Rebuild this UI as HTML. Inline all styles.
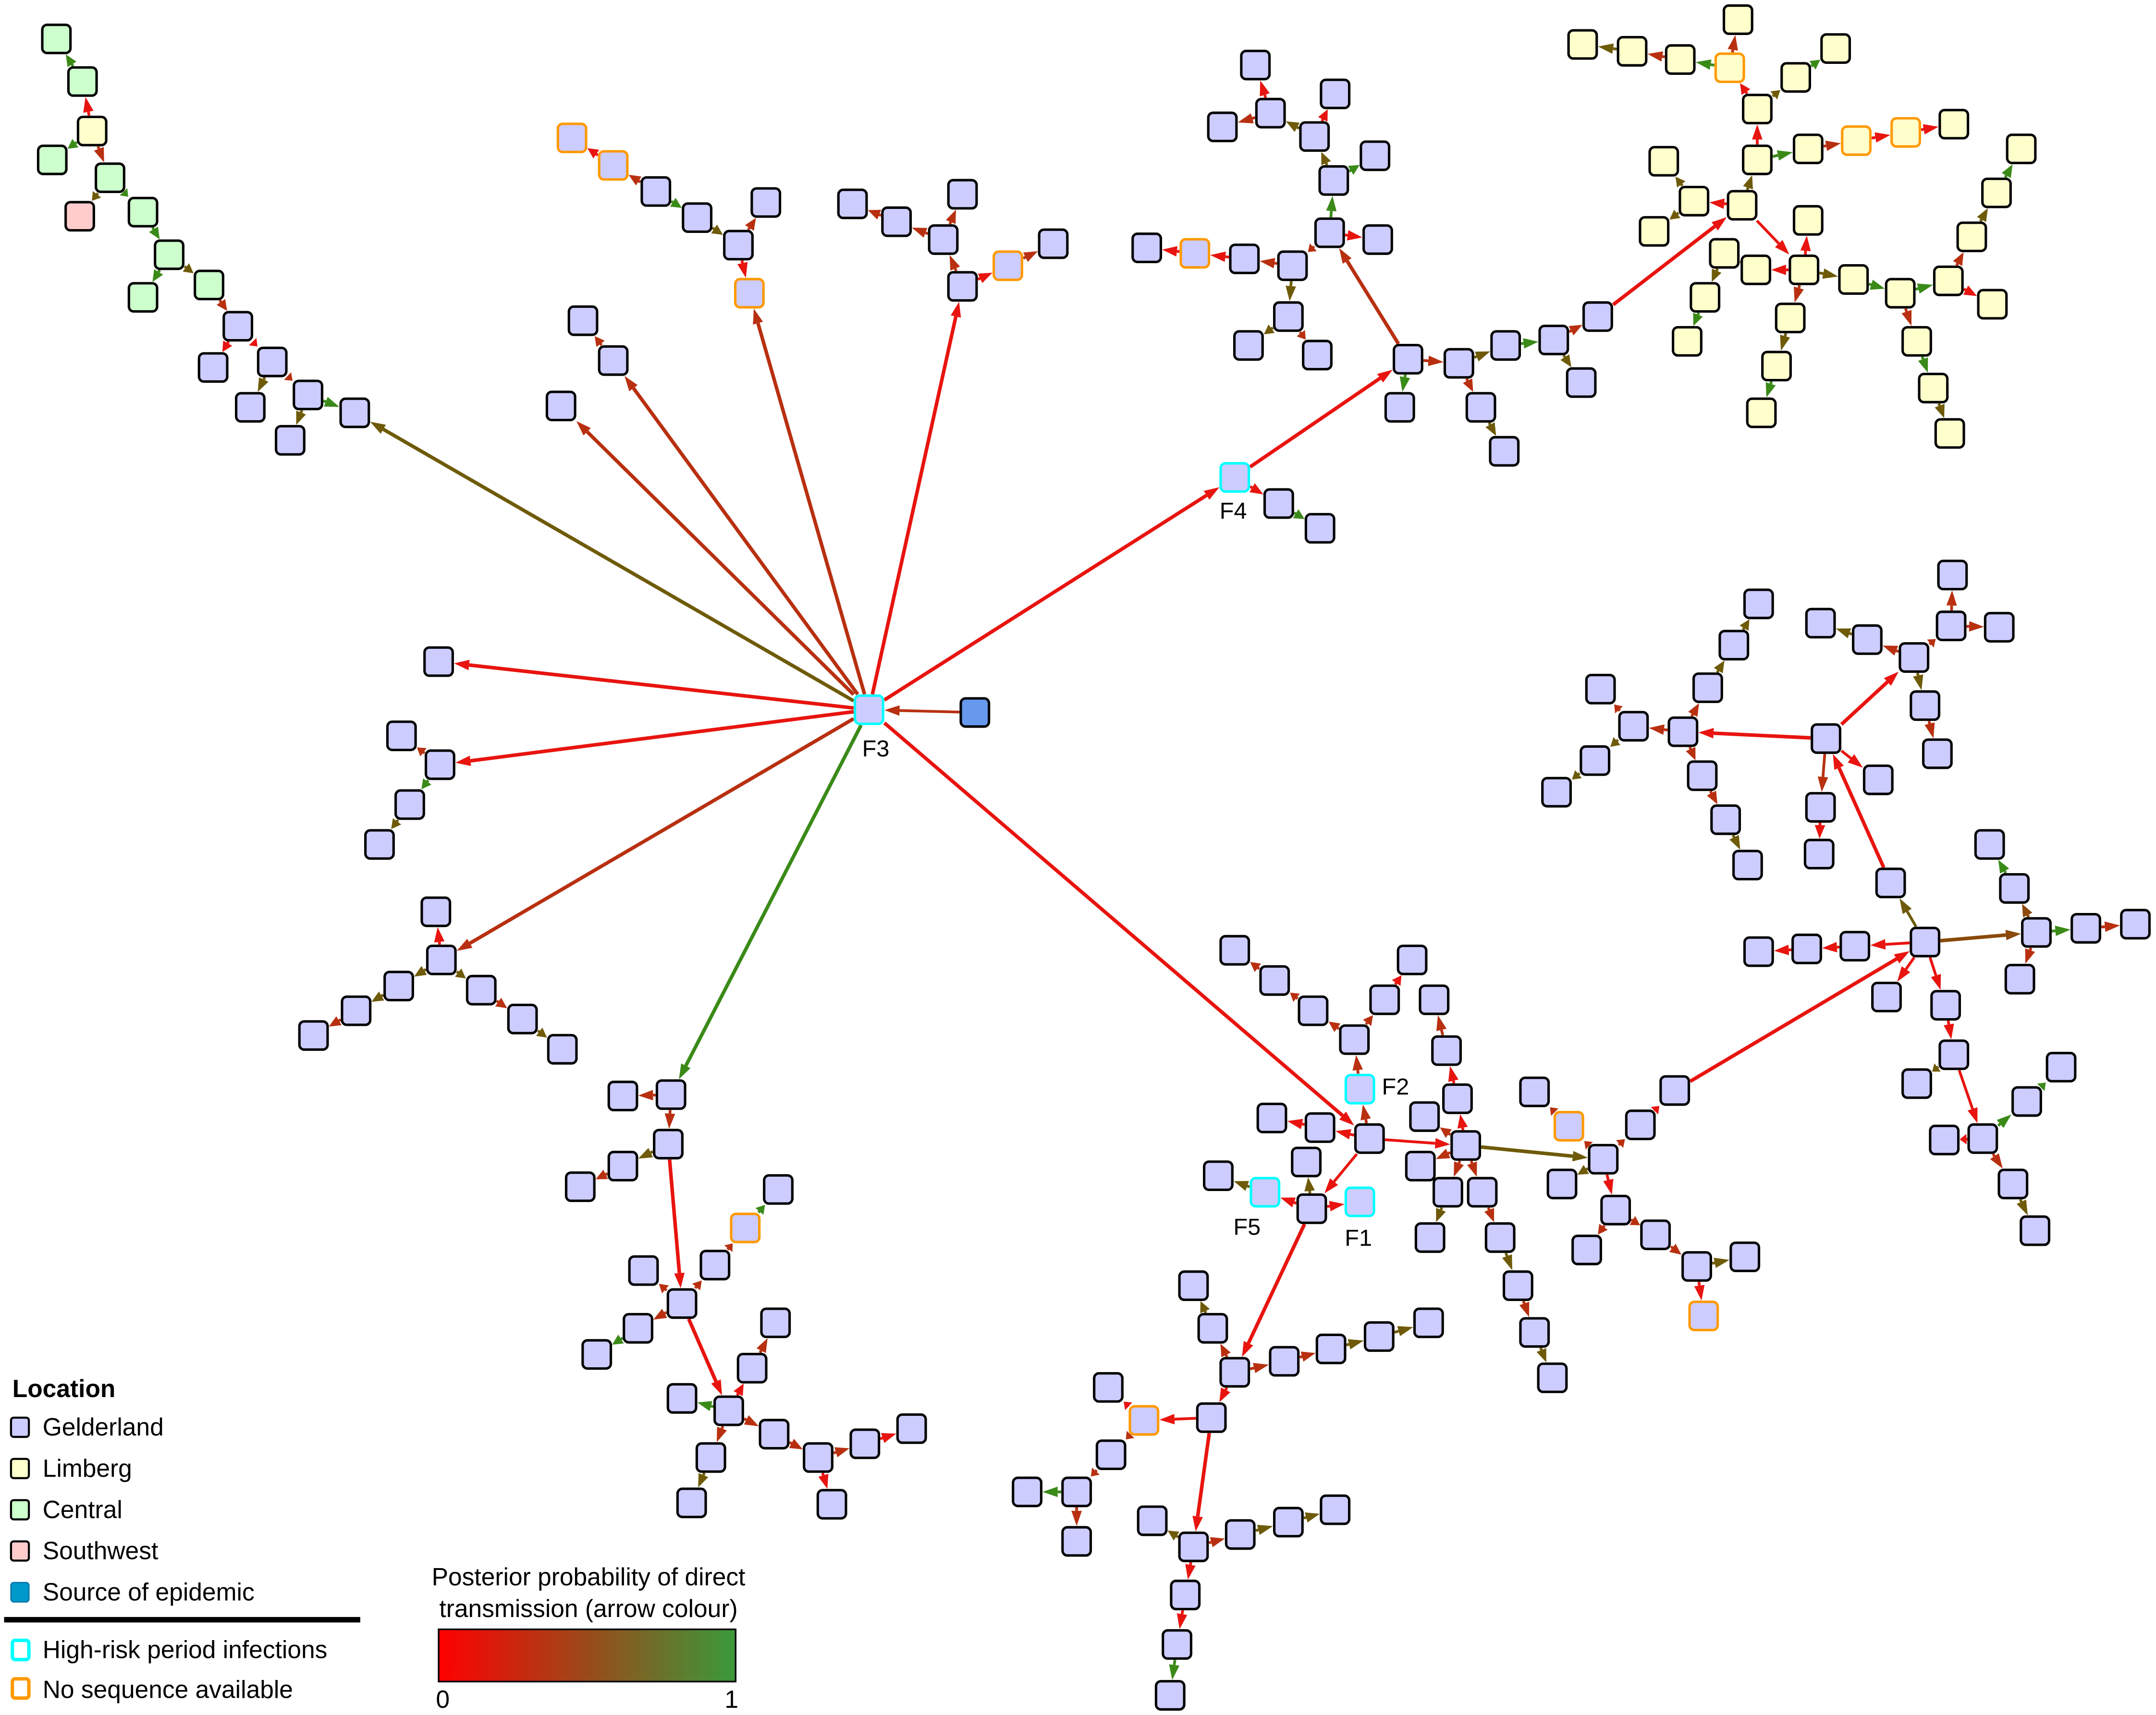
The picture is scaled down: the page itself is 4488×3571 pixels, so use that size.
<!DOCTYPE html>
<html><head><meta charset="utf-8">
<style>
html,body{margin:0;padding:0;background:#fff;}
svg{display:block;}
text{font-family:"Liberation Sans",Arial,sans-serif;}
</style></head>
<body>
<svg id="s" xmlns="http://www.w3.org/2000/svg" width="4488" height="3571" viewBox="0 0 1568 1247">
<defs>
<linearGradient id="gr" x1="0" x2="1" y1="0" y2="0">
<stop offset="0" stop-color="#ff0000"/><stop offset="0.5" stop-color="#9a4a1a"/><stop offset="1" stop-color="#3a9a3a"/>
</linearGradient>
</defs>
<g id="E"></g>
<g id="N"></g>
<g font-size="17" fill="#000">
<text x="887" y="377">F4</text>
<text x="627" y="550">F3</text>
<text x="1005" y="796">F2</text>
<text x="978" y="906">F1</text>
<text x="897" y="898">F5</text>
</g>
<g font-size="18">
<text x="9" y="1016" font-weight="bold">Location</text>
<rect x="8" y="1031" width="13" height="14" rx="2" fill="#ccccff" stroke="#000" stroke-width="1.5"/>
<text x="31" y="1044">Gelderland</text>
<rect x="8" y="1061" width="13" height="14" rx="2" fill="#ffffcc" stroke="#000" stroke-width="1.5"/>
<text x="31" y="1074">Limberg</text>
<rect x="8" y="1091" width="13" height="14" rx="2" fill="#ccffcc" stroke="#000" stroke-width="1.5"/>
<text x="31" y="1104">Central</text>
<rect x="8" y="1121" width="13" height="14" rx="2" fill="#ffcccc" stroke="#000" stroke-width="1.5"/>
<text x="31" y="1134">Southwest</text>
<rect x="8" y="1151" width="13" height="14" rx="2" fill="#0099cc" stroke="#0077aa" stroke-width="1"/>
<text x="31" y="1164">Source of epidemic</text>
<rect x="3" y="1176" width="259" height="4" fill="#000"/>
<rect x="9" y="1193" width="12" height="14" rx="2" fill="#fff" stroke="#00ffff" stroke-width="2.5"/>
<text x="31" y="1206">High-risk period infections</text>
<rect x="9" y="1221" width="12" height="14" rx="2" fill="#fff" stroke="#ff9900" stroke-width="2.5"/>
<text x="31" y="1235">No sequence available</text>
<text x="428" y="1153" text-anchor="middle">Posterior probability of direct</text>
<text x="428" y="1176" text-anchor="middle">transmission (arrow colour)</text>
<rect x="319" y="1185" width="216" height="38" fill="url(#gr)" stroke="#000" stroke-width="1.2"/>
<text x="322" y="1242" text-anchor="middle">0</text>
<text x="532" y="1242" text-anchor="middle">1</text>
</g>
</svg>
<script>
var NS="http://www.w3.org/2000/svg";
var fills={g:"#ccccff",l:"#ffffcc",c:"#ccffcc",s:"#ffcccc",src:"#6699ee",cy:"#ccccff",og:"#ccccff",ol:"#ffffcc"};
var strokes={cy:"#00ffff",og:"#ff9900",ol:"#ff9900"};
var nodes=[
[41,28,'c'],[60,59,'c'],[67,95,'l'],[38,116,'c'],[80,129,'c'],[58,157,'s'],[104,154,'c'],[123,185,'c'],[104,216,'c'],[152,207,'c'],[173,237,'g'],[155,267,'g'],[198,263,'g'],[182,296,'g'],[224,287,'g'],[211,320,'g'],[258,300,'g'],
[632,516,'cy'],[709,518,'src'],
[424,233,'g'],[446,262,'g'],[408,295,'g'],
[416,100,'og'],[446,120,'og'],[477,139,'g'],[507,158,'g'],[537,178,'g'],[557,147,'g'],[545,213,'og'],
[620,148,'g'],[652,161,'g'],[686,174,'g'],[700,141,'g'],[700,208,'g'],[733,193,'og'],[766,177,'g'],
[898,347,'cy'],[930,366,'g'],[960,384,'g'],
[319,481,'g'],[292,535,'g'],[320,556,'g'],[298,585,'g'],[276,614,'g'],
[317,663,'g'],[321,698,'g'],[290,717,'g'],[259,735,'g'],[228,753,'g'],[350,720,'g'],[380,741,'g'],[409,763,'g'],
[453,797,'g'],[488,796,'g'],[486,832,'g'],[453,848,'g'],[422,863,'g'],[566,865,'g'],[542,893,'og'],[520,920,'g'],[468,924,'g'],[496,948,'g'],[464,966,'g'],[434,985,'g'],[564,962,'g'],[547,995,'g'],[496,1017,'g'],[530,1026,'g'],[517,1060,'g'],[503,1093,'g'],[563,1043,'g'],[595,1060,'g'],[629,1050,'g'],[663,1039,'g'],[605,1094,'g'],
[1024,261,'g'],[1018,296,'g'],[1061,264,'g'],[1077,296,'g'],[1094,328,'g'],[1095,251,'g'],[1130,247,'g'],[1150,278,'g'],[1162,230,'g'],
[967,169,'g'],[1002,174,'g'],[970,131,'g'],[1000,113,'g'],[956,99,'g'],[924,82,'g'],[913,47,'g'],[889,92,'g'],[971,68,'g'],[940,193,'g'],[905,188,'g'],[869,184,'og'],[834,180,'g'],[937,230,'g'],[908,251,'g'],[958,258,'g'],
[1267,149,'l'],[1232,146,'l'],[1203,168,'l'],[1210,117,'l'],[1278,116,'l'],[1278,79,'l'],[1306,56,'l'],[1335,35,'l'],[1258,49,'ol'],[1264,14,'l'],[1222,43,'l'],[1187,37,'l'],[1151,32,'l'],[1315,108,'l'],[1350,102,'ol'],[1386,96,'ol'],[1421,90,'l'],
[1312,196,'l'],[1277,196,'l'],[1254,184,'l'],[1240,216,'l'],[1227,248,'l'],[1302,231,'l'],[1292,266,'l'],[1281,300,'l'],[1315,160,'l'],[1348,203,'l'],[1382,213,'l'],[1417,204,'l'],[1434,172,'l'],[1452,140,'l'],[1470,108,'l'],[1449,221,'l'],[1394,248,'l'],[1406,282,'l'],[1418,315,'l'],
[1328,537,'g'],[1224,532,'g'],[1188,528,'g'],[1164,501,'g'],[1160,553,'g'],[1132,576,'g'],[1242,500,'g'],[1261,469,'g'],[1279,439,'g'],[1238,564,'g'],[1255,596,'g'],[1271,629,'g'],[1324,587,'g'],[1323,621,'g'],[1366,567,'g'],[1392,478,'g'],[1358,465,'g'],[1324,453,'g'],[1419,455,'g'],[1454,456,'g'],[1420,418,'g'],[1400,513,'g'],[1409,548,'g'],
[1375,642,'g'],[1400,685,'g'],[1349,688,'g'],[1314,690,'g'],[1279,692,'g'],[1481,678,'g'],[1447,614,'g'],[1465,646,'g'],[1517,675,'g'],[1553,672,'g'],[1469,712,'g'],[1372,725,'g'],[1415,731,'g'],[1421,767,'g'],[1442,828,'g'],[1394,788,'g'],[1474,801,'g'],[1499,776,'g'],[1414,829,'g'],[1464,861,'g'],[1480,895,'g'],
[1218,793,'g'],[1193,818,'g'],[1166,843,'g'],[1141,819,'og'],[1116,794,'g'],[1136,861,'g'],[1175,880,'g'],[1154,909,'g'],[1204,898,'g'],[1234,921,'g'],[1269,914,'g'],[1239,957,'og'],
[996,828,'g'],[989,792,'cy'],[985,756,'g'],[955,735,'g'],[927,713,'g'],[898,691,'g'],[1007,727,'g'],[1027,698,'g'],[960,820,'g'],[925,813,'g'],[989,874,'cy'],[920,867,'cy'],[954,879,'g'],[886,855,'g'],[950,845,'g'],
[1066,833,'g'],[1060,799,'g'],[1052,764,'g'],[1043,727,'g'],[1036,812,'g'],[1033,848,'g'],[1053,867,'g'],[1040,900,'g'],[1078,867,'g'],[1091,900,'g'],[1104,935,'g'],[1116,969,'g'],[1129,1002,'g'],
[898,998,'g'],[868,935,'g'],[882,966,'g'],[934,990,'g'],[968,981,'g'],[1003,972,'g'],[1039,962,'g'],[881,1031,'g'],[832,1033,'og'],[806,1009,'g'],[808,1058,'g'],[783,1085,'g'],[747,1085,'g'],[783,1121,'g'],[868,1125,'g'],[838,1106,'g'],[902,1116,'g'],[937,1107,'g'],[971,1098,'g'],[862,1160,'g'],[856,1196,'g'],[851,1233,'g']
];
var C={r:"#e8140f",b:"#b83010",o:"#6e5a08",g:"#3a8a18",br:"#8a4a0a"};
var edges=[
[60,59,41,28,'g'],[67,95,60,59,'r'],[67,95,38,116,'g'],[67,95,80,129,'b'],[80,129,58,157,'o'],[80,129,104,154,'g'],[104,154,123,185,'g'],[123,185,104,216,'g'],[123,185,152,207,'o'],[152,207,173,237,'b'],[173,237,155,267,'r'],[173,237,198,263,'r'],[198,263,182,296,'o'],[198,263,224,287,'b'],[224,287,211,320,'o'],[224,287,258,300,'g'],
[709,518,632,516,'b'],
[632,516,258,300,'o'],[632,516,446,262,'b'],[632,516,408,295,'b'],[446,262,424,233,'b'],[632,516,545,213,'b'],[632,516,700,208,'r'],[632,516,898,347,'r'],[632,516,319,481,'r'],[632,516,320,556,'r'],[632,516,321,698,'b'],[632,516,488,796,'g'],[632,516,996,828,'r'],
[446,120,416,100,'r'],[477,139,446,120,'b'],[477,139,507,158,'g'],[507,158,537,178,'o'],[537,178,557,147,'b'],[537,178,545,213,'r'],
[652,161,620,148,'b'],[686,174,652,161,'b'],[686,174,700,141,'b'],[700,208,686,174,'b'],[700,208,733,193,'r'],[733,193,766,177,'b'],
[898,347,1024,261,'r'],[898,347,930,366,'r'],[930,366,960,384,'g'],
[320,556,292,535,'b'],[320,556,298,585,'g'],[298,585,276,614,'o'],
[321,698,317,663,'r'],[321,698,290,717,'o'],[290,717,259,735,'o'],[259,735,228,753,'b'],[321,698,350,720,'o'],[350,720,380,741,'b'],[380,741,409,763,'o'],
[488,796,453,797,'b'],[488,796,486,832,'b'],[486,832,453,848,'o'],[453,848,422,863,'b'],[486,832,496,948,'r'],[496,948,520,920,'b'],[520,920,542,893,'b'],[542,893,566,865,'g'],[496,948,468,924,'b'],[496,948,464,966,'b'],[464,966,434,985,'g'],[496,948,530,1026,'r'],[530,1026,547,995,'r'],[547,995,564,962,'b'],[530,1026,496,1017,'g'],[530,1026,517,1060,'b'],[517,1060,503,1093,'o'],[530,1026,563,1043,'b'],[563,1043,595,1060,'b'],[595,1060,629,1050,'b'],[629,1050,663,1039,'r'],[595,1060,605,1094,'r'],
[1024,261,1018,296,'g'],[1024,261,1061,264,'b'],[1061,264,1077,296,'b'],[1077,296,1094,328,'o'],[1061,264,1095,251,'o'],[1095,251,1130,247,'g'],[1130,247,1150,278,'o'],[1130,247,1162,230,'b'],[1162,230,1267,149,'r'],
[1024,261,967,169,'b'],[967,169,1002,174,'r'],[967,169,970,131,'g'],[970,131,1000,113,'g'],[970,131,956,99,'o'],[956,99,924,82,'o'],[924,82,913,47,'r'],[924,82,889,92,'b'],[956,99,971,68,'r'],[967,169,940,193,'b'],[940,193,905,188,'b'],[905,188,869,184,'r'],[869,184,834,180,'r'],[940,193,937,230,'o'],[937,230,908,251,'o'],[937,230,958,258,'b'],
[1267,149,1232,146,'r'],[1232,146,1203,168,'o'],[1232,146,1210,117,'o'],[1267,149,1278,116,'o'],[1278,116,1278,79,'r'],[1278,79,1306,56,'o'],[1306,56,1335,35,'g'],[1278,79,1258,49,'r'],[1258,49,1264,14,'b'],[1258,49,1222,43,'g'],[1222,43,1187,37,'b'],[1187,37,1151,32,'o'],[1278,116,1315,108,'g'],[1315,108,1350,102,'b'],[1350,102,1386,96,'r'],[1386,96,1421,90,'r'],
[1267,149,1312,196,'r'],[1312,196,1277,196,'r'],[1277,196,1254,184,'o'],[1254,184,1240,216,'o'],[1240,216,1227,248,'g'],[1312,196,1302,231,'b'],[1302,231,1292,266,'o'],[1292,266,1281,300,'g'],[1312,196,1315,160,'r'],[1312,196,1348,203,'o'],[1348,203,1382,213,'g'],[1382,213,1417,204,'g'],[1417,204,1434,172,'b'],[1434,172,1452,140,'o'],[1452,140,1470,108,'g'],[1417,204,1449,221,'r'],[1382,213,1394,248,'b'],[1394,248,1406,282,'g'],[1406,282,1418,315,'o'],
[1328,537,1224,532,'r'],[1224,532,1188,528,'b'],[1188,528,1164,501,'b'],[1188,528,1160,553,'o'],[1160,553,1132,576,'o'],[1224,532,1242,500,'b'],[1242,500,1261,469,'o'],[1261,469,1279,439,'o'],[1224,532,1238,564,'b'],[1238,564,1255,596,'b'],[1255,596,1271,629,'o'],[1328,537,1324,587,'b'],[1324,587,1323,621,'r'],[1328,537,1366,567,'r'],[1328,537,1392,478,'r'],[1392,478,1358,465,'b'],[1358,465,1324,453,'o'],[1392,478,1419,455,'b'],[1419,455,1454,456,'b'],[1419,455,1420,418,'b'],[1392,478,1400,513,'o'],[1400,513,1409,548,'b'],
[1375,642,1328,537,'r'],[1400,685,1375,642,'o'],[1400,685,1349,688,'r'],[1349,688,1314,690,'r'],[1314,690,1279,692,'r'],[1400,685,1481,678,'br'],[1481,678,1465,646,'br'],[1465,646,1447,614,'g'],[1481,678,1517,675,'g'],[1517,675,1553,672,'b'],[1481,678,1469,712,'b'],[1400,685,1372,725,'r'],[1400,685,1415,731,'r'],[1415,731,1421,767,'r'],[1421,767,1442,828,'r'],[1421,767,1394,788,'o'],[1442,828,1474,801,'g'],[1474,801,1499,776,'g'],[1442,828,1414,829,'r'],[1442,828,1464,861,'b'],[1464,861,1480,895,'o'],
[1218,793,1400,685,'r'],[1193,818,1218,793,'r'],[1166,843,1193,818,'b'],[1166,843,1141,819,'b'],[1141,819,1116,794,'b'],[1166,843,1136,861,'o'],[1166,843,1175,880,'r'],[1175,880,1154,909,'b'],[1175,880,1204,898,'b'],[1204,898,1234,921,'b'],[1234,921,1269,914,'o'],[1234,921,1239,957,'r'],
[996,828,989,792,'b'],[989,792,985,756,'b'],[985,756,955,735,'b'],[955,735,927,713,'b'],[927,713,898,691,'b'],[985,756,1007,727,'b'],[1007,727,1027,698,'r'],[996,828,960,820,'r'],[960,820,925,813,'r'],[996,828,954,879,'r'],[954,879,989,874,'r'],[954,879,920,867,'r'],[920,867,886,855,'o'],[954,879,950,845,'o'],
[996,828,1066,833,'r'],[1066,833,1166,843,'o'],[1066,833,1060,799,'r'],[1060,799,1052,764,'r'],[1052,764,1043,727,'b'],[1066,833,1036,812,'b'],[1066,833,1033,848,'b'],[1066,833,1053,867,'b'],[1053,867,1040,900,'o'],[1066,833,1078,867,'b'],[1078,867,1091,900,'b'],[1091,900,1104,935,'o'],[1104,935,1116,969,'b'],[1116,969,1129,1002,'o'],
[954,879,898,998,'r'],[898,998,882,966,'b'],[882,966,868,935,'o'],[898,998,934,990,'b'],[934,990,968,981,'b'],[968,981,1003,972,'o'],[1003,972,1039,962,'o'],[898,998,881,1031,'r'],[881,1031,832,1033,'r'],[832,1033,806,1009,'r'],[832,1033,808,1058,'b'],[808,1058,783,1085,'b'],[783,1085,747,1085,'g'],[783,1085,783,1121,'b'],[881,1031,868,1125,'r'],[868,1125,838,1106,'o'],[868,1125,902,1116,'b'],[902,1116,937,1107,'o'],[937,1107,971,1098,'o'],[868,1125,862,1160,'r'],[862,1160,856,1196,'r'],[856,1196,851,1233,'g']
];
var E=document.getElementById('E'),N=document.getElementById('N');
var h=11.2;
edges.forEach(function(e){
 var x1=e[0],y1=e[1],x2=e[2],y2=e[3],col=C[e[4]];
 var dx=x2-x1,dy=y2-y1,L=Math.sqrt(dx*dx+dy*dy);if(L<1)return;
 var m=Math.max(Math.abs(dx),Math.abs(dy));
 var t=h/m;
 var sx=x1+dx*t,sy=y1+dy*t,ex=x2-dx*t,ey=y2-dy*t;
 var ux=dx/L,uy=dy/L;
 var al=Math.min(11,Math.max(5,(L-2*h*L/m)*0.85)),aw=3.8;
 var bx=ex-ux*al,by=ey-uy*al;
 var ln=document.createElementNS(NS,'line');
 ln.setAttribute('x1',sx);ln.setAttribute('y1',sy);ln.setAttribute('x2',bx);ln.setAttribute('y2',by);
 ln.setAttribute('stroke',col);ln.setAttribute('stroke-width',L>80?2.6:2);
 E.appendChild(ln);
 var p=document.createElementNS(NS,'polygon');
 p.setAttribute('points',ex+','+ey+' '+(bx-uy*aw)+','+(by+ux*aw)+' '+(bx+uy*aw)+','+(by-ux*aw));
 p.setAttribute('fill',col);E.appendChild(p);
});
nodes.forEach(function(n){
 var r=document.createElementNS(NS,'rect');
 r.setAttribute('x',n[0]-10.25);r.setAttribute('y',n[1]-10.25);r.setAttribute('width',20.5);r.setAttribute('height',20.5);r.setAttribute('rx',3.5);
 r.setAttribute('fill',fills[n[2]]);r.setAttribute('stroke',strokes[n[2]]||'#000');r.setAttribute('stroke-width',1.8);
 N.appendChild(r);
});
</script>
</body></html>
